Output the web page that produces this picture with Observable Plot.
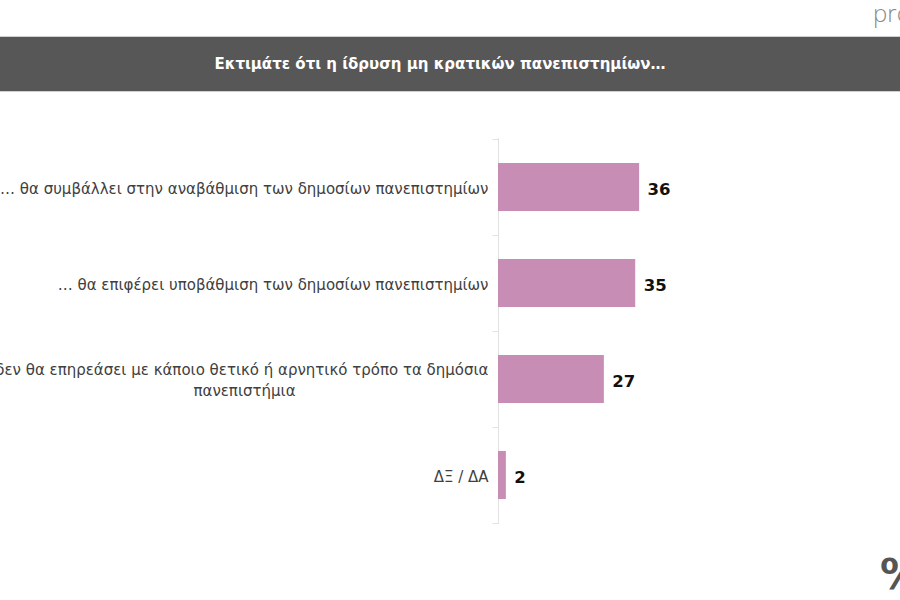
<!DOCTYPE html>
<html>
<head>
<meta charset="utf-8">
<script src="https://cdn.jsdelivr.net/npm/d3@7"></script>
<script src="https://cdn.jsdelivr.net/npm/@observablehq/plot@0.6"></script>
<style>
  html, body { margin: 0; padding: 0; background: #fff; }
  body { width: 900px; height: 600px; overflow: hidden; position: relative; font-family: "DejaVu Sans", sans-serif; }
  #brand { position: absolute; left: 873px; top: -4px; font: 300 24px "Open Sans", sans-serif; color: #8a8a8a; white-space: nowrap; }
  #banner { position: absolute; left: 0; top: 36px; width: 900px; height: 56px; background: #575757;
            border-top: 1px solid #cfcfcf; border-bottom: 1px solid #cfcfcf;
            color: #fff; font: bold 15px "DejaVu Sans", sans-serif; display: flex; align-items: center; justify-content: center; padding-right: 20px; box-sizing: border-box; }
  #chart { position: absolute; left: 0; top: 100px; }
  #chart svg text.lbl { letter-spacing: 0.7px; }
  #pct { position: absolute; left: 880px; top: 550px; font: bold 42px "DejaVu Sans", sans-serif; color: #555; }
</style>
</head>
<body>
<div id="brand">prorata</div>
<div id="banner">Εκτιμάτε ότι η ίδρυση μη κρατικών πανεπιστημίων…</div>
<div id="chart"></div>
<div id="pct">%</div>
<script>
const categories = [
  "… θα συμβάλλει στην αναβάθμιση των δημοσίων πανεπιστημίων",
  "… θα επιφέρει υποβάθμιση των δημοσίων πανεπιστημίων",
  "… δεν θα επηρεάσει με κάποιο θετικό ή αρνητικό τρόπο τα δημόσια πανεπιστήμια",
  "ΔΞ / ΔΑ"
];
const firstLines = [
  "… θα συμβάλλει στην αναβάθμιση των δημοσίων πανεπιστημίων",
  "… θα επιφέρει υποβάθμιση των δημοσίων πανεπιστημίων",
  "… δεν θα επηρεάσει με κάποιο θετικό ή αρνητικό τρόπο τα δημόσια",
  "ΔΞ / ΔΑ"
];
const secondLines = ["", "", "πανεπιστήμια", ""];
const values = [36, 35, 27, 2];

const data = categories.map((c, i) => ({category: c, value: values[i], first: firstLines[i], second: secondLines[i]}));
const single = data.filter(d => !d.second);
const wrapped = data.filter(d => d.second);

const labelStyle = {frameAnchor: "left", fontSize: 15, fill: "#404040", className: "lbl"};

const chart = Plot.plot({
  width: 900,
  height: 500,
  marginTop: 38,
  marginBottom: 76,
  marginLeft: 498,
  marginRight: 10,
  style: {fontFamily: "DejaVu Sans, sans-serif", background: "transparent"},
  x: {domain: [0, 100], axis: null},
  y: {domain: categories, paddingInner: 0.5, paddingOuter: 0.25, axis: null},
  marks: [
    Plot.ruleX([0], {stroke: "#e2e2e2", strokeWidth: 1}),
    Plot.ruleY(categories, {y: d => d, x1: -1.4, x2: 0, dy: -48, stroke: "#e2e2e2"}),
    Plot.ruleY(categories.slice(-1), {y: d => d, x1: -1.4, x2: 0, dy: 48, stroke: "#e2e2e2"}),
    Plot.barX(data, {y: "category", x: "value", fill: "#c78db4"}),
    Plot.text(single, {y: "category", text: "first", textAnchor: "end", dx: -10, dy: 2, ...labelStyle}),
    Plot.text(wrapped, {y: "category", text: "first", textAnchor: "end", dx: -10, dy: -9, ...labelStyle}),
    Plot.text(wrapped, {y: "category", text: "second", textAnchor: "middle", dx: -254, dy: 12, ...labelStyle}),
    Plot.text(data, {
      y: "category", x: "value", text: d => String(d.value), textAnchor: "start",
      dx: 8, dy: 2, fontSize: 16.5, fontWeight: "bold", fill: "#111"
    })
  ]
});
document.getElementById("chart").appendChild(chart);
</script>
</body>
</html>
